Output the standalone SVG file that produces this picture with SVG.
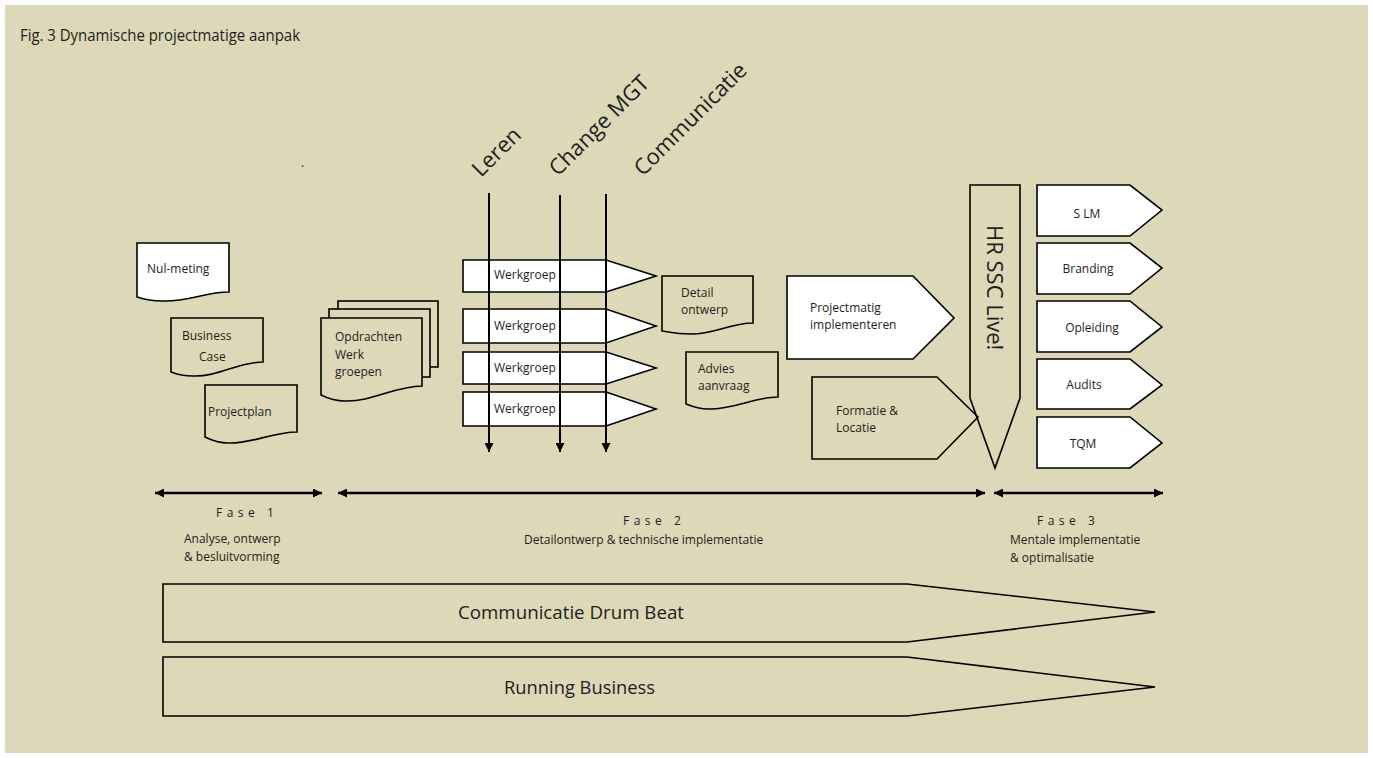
<svg xmlns="http://www.w3.org/2000/svg" width="1373" height="758" viewBox="0 0 1373 758">
<defs>
<style>
text{font-family:"Open Sans","Noto Sans","Liberation Sans",sans-serif;fill:#1e1e1e;}
.t12{font-size:12px;}
.t22{font-size:22px;}
.fase{font-size:12px;letter-spacing:4.5px;}
.big{font-size:19px;}
.w{fill:#ffffff;stroke:#000;stroke-width:1.6;stroke-linejoin:miter;}
.n{fill:#ddd8b7;stroke:#000;stroke-width:1.6;}
.o{fill:none;stroke:#000;stroke-width:1.6;}
.v{stroke:#000;stroke-width:2;fill:none;}
.ph{stroke:#000;stroke-width:2.5;fill:none;}
</style>
<marker id="ah" viewBox="0 0 10 10" refX="10" refY="5" markerUnits="userSpaceOnUse" markerWidth="9" markerHeight="9" orient="auto">
<path d="M0,0 L10,5 L0,10 Z" fill="#000"/>
</marker>
<marker id="ahs" viewBox="0 0 10 10" refX="0" refY="5" markerUnits="userSpaceOnUse" markerWidth="9" markerHeight="9" orient="auto">
<path d="M10,0 L0,5 L10,10 Z" fill="#000"/>
</marker>
</defs>
<rect x="0" y="0" width="1373" height="758" fill="#ffffff"/>
<rect x="5" y="5" width="1363" height="748" fill="#ddd8b7"/>
<text x="20" y="41" style="font-size:16.5px" textLength="280" lengthAdjust="spacingAndGlyphs">Fig. 3 Dynamische projectmatige aanpak</text>
<text x="301" y="167" class="t12">.</text>

<g id="nul-meting">
<path class="w" d="M137,243 H229 V292 C205,292 188,302 162,301 C150,301 143,299 137,297 Z"/>
<text x="147" y="273" class="t12">Nul-meting</text>
</g>
<g id="business-case">
<path class="n" d="M171,318 H263 V362 C238,362 218,377 193,376 C183,376 176,374 171,372 Z"/>
<text x="182" y="340" class="t12">Business</text>
<text x="199" y="361" class="t12">Case</text>
</g>
<g id="projectplan">
<path class="n" d="M205,385 H297 V432 C272,432 252,444 228,443 C218,443 211,440 205,437 Z"/>
<text x="208" y="416" class="t12">Projectplan</text>
</g>
<g id="opdrachten">
<rect class="n" x="338" y="301" width="100" height="66"/>
<rect class="n" x="329" y="309" width="101" height="68"/>
<path class="n" d="M321,318 H422 V386 C395,386 372,402 345,401 C335,401 327,398 321,395 Z"/>
<text x="335" y="341" class="t12">Opdrachten</text>
<text x="335" y="359" class="t12">Werk</text>
<text x="335" y="376" class="t12">groepen</text>
</g>

<g id="werkgroep-1">
<path class="w" d="M463,260 H606 L656,276 L606,292 H463 Z"/>
<text x="494" y="279" class="t12">Werkgroep</text>
</g>
<g id="werkgroep-2">
<path class="w" d="M463,309 H606 L656,326 L606,343 H463 Z"/>
<text x="494" y="330" class="t12">Werkgroep</text>
</g>
<g id="werkgroep-3">
<path class="w" d="M463,352 H606 L656,368 L606,384 H463 Z"/>
<text x="494" y="372" class="t12">Werkgroep</text>
</g>
<g id="werkgroep-4">
<path class="w" d="M463,392 H606 L656,409 L606,426 H463 Z"/>
<text x="494" y="413" class="t12">Werkgroep</text>
</g>

<g id="stream-labels">
<text class="t22" transform="translate(481,178) rotate(-45)">Leren</text>
<text class="t22" transform="translate(558,177) rotate(-45)">Change MGT</text>
<text class="t22" transform="translate(643,177) rotate(-45)">Communicatie</text>
</g>

<g id="detail-ontwerp">
<path class="n" d="M662,276 H753 V323 C730,323 712,335 690,334 C678,334 669,332 662,331 Z"/>
<text x="681" y="297" class="t12">Detail</text>
<text x="681" y="314" class="t12">ontwerp</text>
</g>
<g id="advies-aanvraag">
<path class="n" d="M686,352 H778 V397 C755,397 732,410 708,409 C698,409 691,406 686,404 Z"/>
<text x="698" y="373" class="t12">Advies</text>
<text x="698" y="390" class="t12">aanvraag</text>
</g>

<g id="projectmatig">
<path class="w" d="M787,276 H913 L954,318 L913,359 H787 Z"/>
<text x="810" y="312" class="t12">Projectmatig</text>
<text x="810" y="329" class="t12">implementeren</text>
</g>

<g id="hr-ssc-live">
<path class="n" d="M970,185 H1020 V398 L995,468 L970,398 Z"/>
<text class="t22" transform="translate(987,225) rotate(90)">HR SSC Live!</text>
</g>

<g id="formatie">
<path class="o" d="M812,377 H937 L978,417 L937,459 H812 Z"/>
<text x="836" y="415" class="t12">Formatie &amp;</text>
<text x="836" y="432" class="t12">Locatie</text>
</g>

<g id="slm">
<path class="w" d="M1037,185 H1130 L1162,210 L1130,236 H1037 Z"/>
<text x="1087" y="218" class="t12" text-anchor="middle">S LM</text>
</g>
<g id="branding">
<path class="w" d="M1037,243 H1130 L1162,268 L1130,294 H1037 Z"/>
<text x="1088" y="273" class="t12" text-anchor="middle">Branding</text>
</g>
<g id="opleiding">
<path class="w" d="M1037,301 H1130 L1162,327 L1130,352 H1037 Z"/>
<text x="1092" y="332" class="t12" text-anchor="middle">Opleiding</text>
</g>
<g id="audits">
<path class="w" d="M1037,359 H1130 L1162,385 L1130,409 H1037 Z"/>
<text x="1084" y="389" class="t12" text-anchor="middle">Audits</text>
</g>
<g id="tqm">
<path class="w" d="M1037,417 H1130 L1162,443 L1130,468 H1037 Z"/>
<text x="1083" y="448" class="t12" text-anchor="middle">TQM</text>
</g>

<g id="connectors">
<line class="v" x1="489" y1="193" x2="489" y2="452" marker-end="url(#ah)"/>
<line class="v" x1="560" y1="195" x2="560" y2="452" marker-end="url(#ah)"/>
<line class="v" x1="606" y1="194" x2="606" y2="452" marker-end="url(#ah)"/>
<line class="ph" x1="155" y1="493" x2="322" y2="493" marker-start="url(#ahs)" marker-end="url(#ah)"/>
<line class="ph" x1="338" y1="493" x2="985" y2="493" marker-start="url(#ahs)" marker-end="url(#ah)"/>
<line class="ph" x1="994" y1="493" x2="1163" y2="493" marker-start="url(#ahs)" marker-end="url(#ah)"/>
</g>

<g id="fase-1">
<text x="216" y="517" class="fase">Fase 1</text>
<text x="184" y="543" class="t12">Analyse, ontwerp</text>
<text x="184" y="561" class="t12">&amp; besluitvorming</text>
</g>
<g id="fase-2">
<text x="623" y="525" class="fase">Fase 2</text>
<text x="524" y="544" class="t12">Detailontwerp &amp; technische implementatie</text>
</g>
<g id="fase-3">
<text x="1037" y="525" class="fase">Fase 3</text>
<text x="1010" y="544" class="t12">Mentale implementatie</text>
<text x="1010" y="562" class="t12">&amp; optimalisatie</text>
</g>

<g id="drum-beat">
<path class="n" d="M163,584 H907 L1155,612 L907,642 H163 Z"/>
<text x="458" y="619" class="big" textLength="226" lengthAdjust="spacingAndGlyphs">Communicatie Drum Beat</text>
</g>
<g id="running-business">
<path class="n" d="M163,657 H907 L1155,687 L907,716 H163 Z"/>
<text x="504" y="694" class="big" textLength="151" lengthAdjust="spacingAndGlyphs">Running Business</text>
</g>
</svg>
